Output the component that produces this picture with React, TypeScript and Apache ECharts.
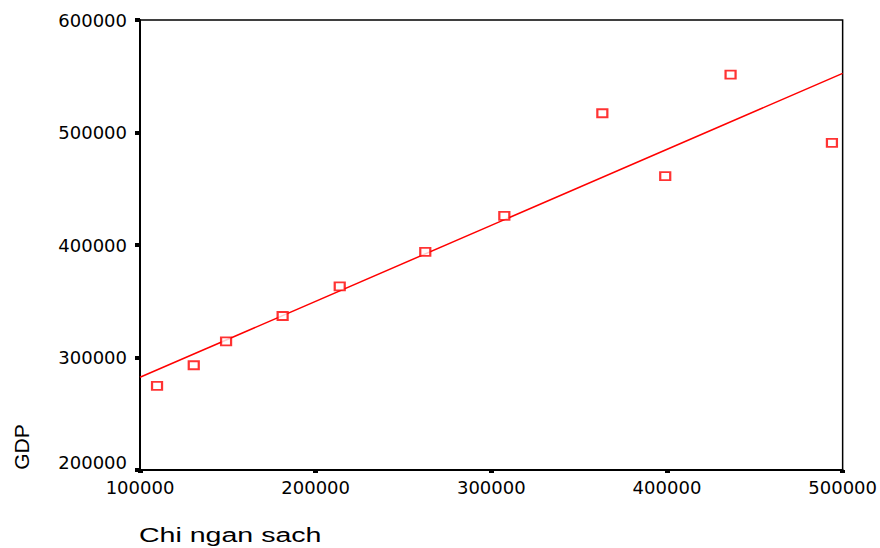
import React, { useEffect, useRef } from "react";
import * as echarts from "echarts";

const chiNganSach = [109700, 130600, 149000, 181200, 213700, 262400, 307400, 363200, 399000, 436200, 493900];
const gdp = [274700, 293100, 314400, 336900, 363300, 393800, 425800, 517100, 461300, 551400, 490700];
const fitX = [100000, 500000];
const fitY = [282400, 552600];
const xTicks = { min: 100000, max: 500000, interval: 100000 };
const yTicks = { min: 200000, max: 600000, interval: 100000 };
const xTitle = "Chi ngan sach";
const yTitle = "GDP";

export default function App() {
  const ref = useRef<HTMLDivElement>(null);
  useEffect(() => {
    if (!ref.current) return;
    const chart = echarts.init(ref.current, undefined, { renderer: "svg" });
    const font = "'DejaVu Sans', Arial, sans-serif";
    const titleFont = "'Liberation Sans', Arial, sans-serif";
    chart.setOption({
      animation: false,
      backgroundColor: "#ffffff",
      grid: {
        left: 140,
        right: 37,
        top: 20,
        bottom: 78,
        show: true,
        borderColor: "#000",
        borderWidth: 1.5,
        containLabel: false,
      },
      xAxis: {
        type: "value",
        min: xTicks.min,
        max: xTicks.max,
        interval: xTicks.interval,
        splitLine: { show: false },
        axisLine: { show: true, lineStyle: { color: "#000", width: 2 } },
        axisTick: { show: true, inside: false, length: 3, lineStyle: { color: "#000", width: 5 } },
        axisLabel: {
          color: "#000",
          fontSize: 18,
          fontFamily: font,
          margin: 8,
          formatter: (v: number) => String(v),
        },
      },
      yAxis: {
        type: "value",
        min: yTicks.min,
        max: yTicks.max,
        interval: yTicks.interval,
        splitLine: { show: false },
        axisLine: { show: true, lineStyle: { color: "#000", width: 2 } },
        axisTick: { show: true, inside: false, length: 5, lineStyle: { color: "#000", width: 4 } },
        axisLabel: {
          color: "#000",
          fontSize: 18,
          fontFamily: font,
          margin: 13,
          formatter: (v: number) => (v === yTicks.min ? "{low|" + v + "}" : String(v)),
          rich: {
            low: { fontSize: 18, fontFamily: font, color: "#000", padding: [0, 0, 16, 0] },
          },
        },
      },
      series: [
        {
          type: "line",
          data: fitX.map((x, i) => [x, fitY[i]]),
          showSymbol: false,
          symbol: "none",
          lineStyle: { color: "#ff0000", width: 1.5 },
          silent: true,
          z: 2,
        },
        {
          type: "scatter",
          data: chiNganSach.map((x, i) => [x, gdp[i]]),
          symbol: "rect",
          symbolSize: [10, 8],
          itemStyle: { color: "#ffffff", borderColor: "#ff0000", borderWidth: 2 },
          z: 3,
        },
      ],
      graphic: [
        {
          type: "text",
          x: 139,
          y: 545,
          scaleX: 1.36,
          scaleY: 1,
          style: {
            text: xTitle,
            fontSize: 21,
            fontFamily: titleFont,
            fill: "#000",
            align: "left",
            verticalAlign: "bottom",
            textAlign: "left",
            textVerticalAlign: "bottom",
          },
        },
        {
          type: "text",
          x: 21,
          y: 447,
          rotation: Math.PI / 2,
          style: {
            text: yTitle,
            fontSize: 21,
            fontFamily: titleFont,
            fill: "#000",
            align: "center",
            verticalAlign: "middle",
            textAlign: "center",
            textVerticalAlign: "middle",
          },
        },
      ],
    });
    return () => chart.dispose();
  }, []);
  return (
    <div
      ref={ref}
      style={{ position: "absolute", left: 0, top: 0, width: 880, height: 548 }}
    />
  );
}
